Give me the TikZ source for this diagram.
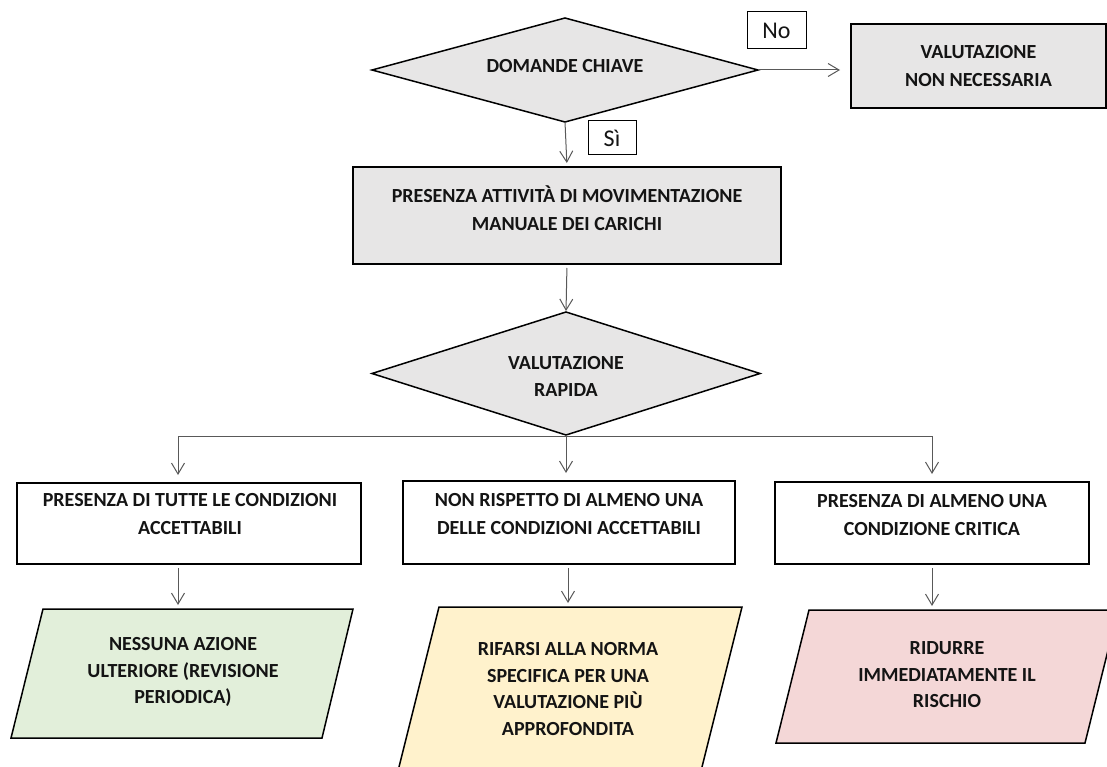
\documentclass[tikz,border=0pt]{standalone}
\usepackage{fontspec}
\setmainfont{Carlito}
\usetikzlibrary{shapes.geometric,arrows.meta,calc}
\definecolor{boxgray}{HTML}{E7E6E6}
\definecolor{pgreen}{HTML}{E2EFDA}
\definecolor{pyellow}{HTML}{FFF2CC}
\definecolor{ppink}{HTML}{F4D7D7}
\definecolor{arrgray}{HTML}{595959}
\definecolor{txt}{HTML}{141414}
\tikzset{
  every node/.style={outer sep=0pt, inner sep=0pt},
  lbl/.style={font=\fontsize{20}{28}\selectfont\bfseries, align=center, text=txt},
  dia/.style={shape=diamond, draw=black, line width=1.5pt, fill=boxgray},
  graybox/.style={draw=black, line width=2pt, fill=boxgray},
  whitebox/.style={draw=black, line width=2.2pt, fill=white},
  tag/.style={draw=black, line width=1pt, fill=white, font=\fontsize{24}{28}\selectfont, text=txt},
  paraline/.style={draw=black, line width=1.5pt},
  arr/.style={draw=arrgray, line width=1pt, -{Straight Barb[length=11pt,width=13pt,line width=1pt]}},
  conn/.style={draw=arrgray, line width=1pt},
}
\begin{document}
\begin{tikzpicture}[x=1pt,y=-1pt]
\useasboundingbox (0,0) rectangle (1107,767);
\fill[white] (0,0) rectangle (1107,767);

% top decision
\node[dia, minimum width=386pt, minimum height=104pt] (d1) at (565,70) {};
\node[lbl] (td1) at (565,66) {DOMANDE CHIAVE};
\node[tag, minimum width=59pt, minimum height=37pt] (no) at (776.5,30.5) {No};
\node[graybox, minimum width=255pt, minimum height=84pt, lbl] (nn) at (978.5,66) {VALUTAZIONE\\NON NECESSARIA};
\node[tag, minimum width=48pt, minimum height=34pt] (si) at (612,138) {Sì};

% activity box
\node[graybox, minimum width=428pt, minimum height=97pt] (b2) at (567,215.5) {};
\node[lbl] (t2) at (567,208) {PRESENZA ATTIVITÀ DI MOVIMENTAZIONE\\MANUALE DEI CARICHI};

% second decision
\node[dia, minimum width=388pt, minimum height=123pt] (d2) at (566,373.5) {};
\node[lbl] (td2) at (566,376) {VALUTAZIONE\\[-1pt]RAPIDA};

% condition boxes
\node[whitebox, minimum width=344pt, minimum height=81pt] (bA) at (189,523.5) {};
\node[lbl] (tA) at (190,514) {PRESENZA DI TUTTE LE CONDIZIONI\\ACCETTABILI};
\node[whitebox, minimum width=332pt, minimum height=83pt] (bB) at (569,522.5) {};
\node[lbl] (tB) at (569,514.5) {NON RISPETTO DI ALMENO UNA\\DELLE CONDIZIONI ACCETTABILI};
\node[whitebox, minimum width=314pt, minimum height=82pt] (bC) at (932,523) {};
\node[lbl] (tC) at (932,515) {PRESENZA DI ALMENO UNA\\CONDIZIONE CRITICA};

% outcomes (parallelograms)
\filldraw[paraline, fill=pgreen] (43,609) -- (353,609) -- (322,738) -- (11,738) -- cycle;
\filldraw[paraline, fill=pyellow] (439,607) -- (742,607) -- (701,771) -- (398,771) -- cycle;
\filldraw[paraline, fill=ppink] (809,610) -- (1118,610) -- (1085,743) -- (776,743) -- cycle;
\coordinate (pAtop) at (178,609);
\coordinate (pBtop) at (568,607);
\coordinate (pCtop) at (932,610);
\node[lbl] (pA) at (183,672) {NESSUNA AZIONE\\[-1.5pt]ULTERIORE (REVISIONE\\[-1.5pt]PERIODICA)};
\node[lbl] (pB) at (568,689) {RIFARSI ALLA NORMA\\[-1.5pt]SPECIFICA PER UNA\\[-1.5pt]VALUTAZIONE PIÙ\\[-1.5pt]APPROFONDITA};
\node[lbl] (pC) at (947,675) {RIDURRE\\[-1.5pt]IMMEDIATAMENTE IL\\[-1.5pt]RISCHIO};

% connectors
\draw[arr, shorten >=11pt] (d1.east) -- (nn.west |- d1.east);
\draw[arr, shorten >=4pt] (d1.south) -- (b2.north);
\draw[arr, shorten <=4pt, shorten >=1pt] (b2.south) -- (d2.north);
\coordinate (jA) at (178,436);
\coordinate (jC) at (932,436);
\draw[conn] (jA) -- (jC);
\draw[arr, shorten >=8pt] (jA) -- (jA |- bA.north);
\draw[arr, shorten >=8pt] (d2.south) -- (d2.south |- bB.north);
\draw[arr, shorten >=8pt] (jC) -- (jC |- bC.north);
\draw[arr, shorten <=4pt, shorten >=4pt] (jA |- bA.south) -- (pAtop);
\draw[arr, shorten <=4pt, shorten >=4pt] (pBtop |- bB.south) -- (pBtop);
\draw[arr, shorten <=4pt, shorten >=4pt] (pCtop |- bC.south) -- (pCtop);
\end{tikzpicture}
\end{document}
